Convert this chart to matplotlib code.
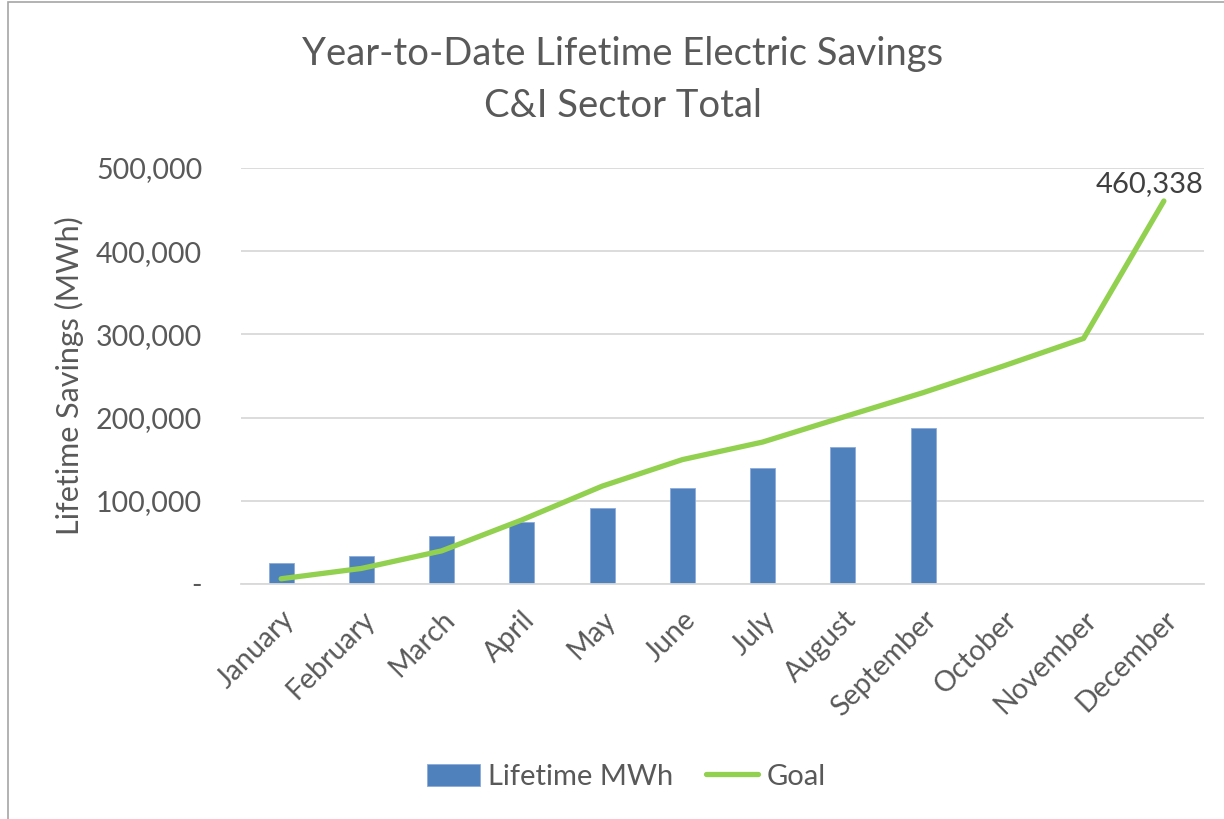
import matplotlib
matplotlib.use("Agg")
import matplotlib.pyplot as plt
import numpy as np
from matplotlib.patches import Rectangle

months = ['January', 'February', 'March', 'April', 'May', 'June', 'July',
          'August', 'September', 'October', 'November', 'December']
lifetime_mwh = [25100, 33500, 57400, 74200, 91300, 115600, 140000, 164300, 187500]
goal = [6300, 18700, 39800, 77000, 117600, 149500, 170600, 200500, 230000,
        262000, 295200, 460338]

grey = '#595959'
plt.rcParams['font.family'] = ['Lato', 'DejaVu Sans']

fig = plt.figure(figsize=(12.24, 8.19), dpi=100)
ax = fig.add_axes([241/1224, 1 - 584/819, 963/1224, 416/819])

x = np.arange(len(months))
bars = ax.bar(x[:len(lifetime_mwh)], lifetime_mwh, 0.31, color='#4f81bd',
              edgecolor='#8eaadb', linewidth=0.6, label='Lifetime MWh', zorder=2)
line, = ax.plot(x, goal, color='#92d050', linewidth=3.8, solid_capstyle='round',
                label='Goal', zorder=3)

# data label on the last goal point
ax.annotate('{:,}'.format(goal[-1]), xy=(x[-1], goal[-1]), xytext=(-10, 3),
            textcoords='offset points', ha='center', va='bottom',
            fontsize=21, color='#404040')

ax.set_xlim(-0.5, len(months) - 0.5)
ax.set_ylim(0, 500000)
yt = np.arange(0, 500001, 100000)
ax.set_yticks(yt)
ax.set_yticklabels(['-' if v == 0 else '{:,}'.format(v) for v in yt])
ax.set_xticks(x)
ax.set_xticklabels(months, rotation=45, ha='right', rotation_mode='anchor')
ax.tick_params(axis='both', length=0, labelsize=20.5, labelcolor=grey)
ax.tick_params(axis='y', pad=28)
ax.tick_params(axis='x', pad=16)
ax.grid(axis='y', color='#d9d9d9', linewidth=1.3, zorder=0)
ax.set_axisbelow(True)
for s in ['top', 'right', 'left']:
    ax.spines[s].set_visible(False)
ax.spines['bottom'].set_color('#d9d9d9')
ax.spines['bottom'].set_linewidth(1.3)

ax.set_ylabel('Lifetime Savings (MWh)', fontsize=22, color=grey)
ax.yaxis.set_label_coords(-0.163, 0.5)

fig.text(0.509, 0.902, 'Year-to-Date Lifetime Electric Savings\nC&I Sector Total',
         ha='center', va='center', fontsize=27.5, color=grey, linespacing=1.55)

fig.legend([bars, line], ['Lifetime MWh', 'Goal'], loc='center',
           bbox_to_anchor=(0.512, 1 - 777/819), ncol=2, frameon=False,
           fontsize=21, labelcolor=grey, handlelength=1.8, handleheight=0.8,
           columnspacing=1.1, handletextpad=0.3)

# light grey chart border
fig.patches.append(Rectangle((8/1224, -0.1), 1.2, 1.1 - 2/819, transform=fig.transFigure,
                             fill=False, edgecolor='#a6a6a6', linewidth=1.2))

fig.savefig('out.png', dpi=100)
